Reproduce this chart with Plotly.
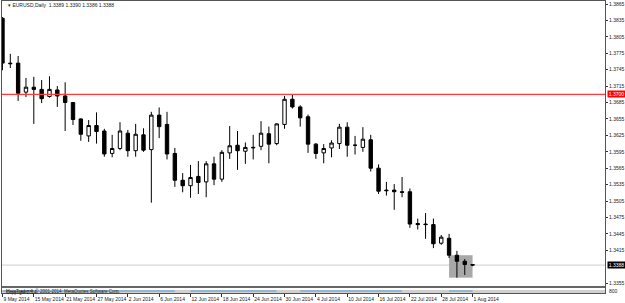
import plotly.graph_objects as go

# Daily EURUSD bars, oldest first
dates = ["9 May 2014", "", "", "", "15 May 2014", "", "", "", "21 May 2014", "", "", "", "27 May 2014", "", "", "",
         "2 Jun 2014", "", "", "", "6 Jun 2014", "", "", "", "12 Jun 2014", "", "", "", "18 Jun 2014", "", "", "",
         "24 Jun 2014", "", "", "", "30 Jun 2014", "", "", "", "4 Jul 2014", "", "", "", "10 Jul 2014", "", "", "",
         "16 Jul 2014", "", "", "", "22 Jul 2014", "", "", "", "28 Jul 2014", "", "", "", "1 Aug 2014"]
opens = [1.3839, 1.3757, 1.3757, 1.3704, 1.3713, 1.3709, 1.3696, 1.3708, 1.3697, 1.3685, 1.3655, 1.3624, 1.3643,
         1.3633, 1.3592, 1.3601, 1.3629, 1.3597, 1.3626, 1.3599, 1.3662, 1.3645, 1.3592, 1.3543, 1.3533, 1.3550,
         1.3540, 1.3573, 1.3545, 1.3593, 1.3607, 1.3596, 1.3602, 1.3605, 1.3628, 1.3610, 1.3645, 1.3691, 1.3677,
         1.3659, 1.3609, 1.3593, 1.3602, 1.3610, 1.3640, 1.3607, 1.3603, 1.3617, 1.3565, 1.3525, 1.3525, 1.3522,
         1.3522, 1.3464, 1.3463, 1.3462, 1.3428, 1.3437, 1.3406, 1.3395, 1.3389]
highs = [1.3841, 1.3774, 1.3770, 1.3730, 1.3732, 1.3726, 1.3733, 1.3715, 1.3722, 1.3686, 1.3656, 1.3653, 1.3667,
         1.3637, 1.3626, 1.3649, 1.3635, 1.3646, 1.3638, 1.3668, 1.3676, 1.3668, 1.3602, 1.3556, 1.3571, 1.3578,
         1.3578, 1.3586, 1.3598, 1.3642, 1.3633, 1.3612, 1.3626, 1.3651, 1.3641, 1.3647, 1.3697, 1.3700, 1.3680,
         1.3663, 1.3611, 1.3609, 1.3616, 1.3646, 1.3649, 1.3624, 1.3640, 1.3626, 1.3572, 1.3540, 1.3536, 1.3549,
         1.3528, 1.3473, 1.3483, 1.3473, 1.3443, 1.3445, 1.3414, 1.3399, 1.3390]
lows = [1.3744, 1.3748, 1.3688, 1.3695, 1.3646, 1.3684, 1.3694, 1.3677, 1.3633, 1.3644, 1.3615, 1.3613, 1.3610,
        1.3586, 1.3585, 1.3598, 1.3586, 1.3586, 1.3595, 1.3502, 1.3620, 1.3581, 1.3531, 1.3521, 1.3511, 1.3518,
        1.3512, 1.3534, 1.3540, 1.3582, 1.3562, 1.3573, 1.3581, 1.3598, 1.3574, 1.3607, 1.3637, 1.3674, 1.3641,
        1.3593, 1.3582, 1.3574, 1.3585, 1.3600, 1.3586, 1.3590, 1.3595, 1.3559, 1.3518, 1.3515, 1.3489, 1.3512,
        1.3456, 1.3453, 1.3436, 1.3419, 1.3425, 1.3401, 1.3365, 1.3370, 1.3386]
closes = [1.3757, 1.3756, 1.3702, 1.3713, 1.3709, 1.3692, 1.3709, 1.3697, 1.3685, 1.3654, 1.3627, 1.3643, 1.3632,
          1.3591, 1.3601, 1.3633, 1.3597, 1.3627, 1.3598, 1.3662, 1.3641, 1.3591, 1.3543, 1.3533, 1.3548, 1.3539,
          1.3573, 1.3545, 1.3594, 1.3606, 1.3597, 1.3603, 1.3603, 1.3629, 1.3609, 1.3646, 1.3691, 1.3677, 1.3657,
          1.3609, 1.3592, 1.3601, 1.3611, 1.3640, 1.3607, 1.3607, 1.3618, 1.3565, 1.3523, 1.3524, 1.3522, 1.3521,
          1.3463, 1.3462, 1.3462, 1.3427, 1.3439, 1.3406, 1.3395, 1.3389, 1.3388]

price_ticks = [1.3865, 1.3835, 1.3805, 1.3775, 1.3745, 1.3715, 1.3685, 1.3655, 1.3625, 1.3595, 1.3565, 1.3535,
               1.3505, 1.3475, 1.3445, 1.3415, 1.3355]
resistance = 1.3700
last_price = 1.3388
box_low, box_high = 1.3365, 1.3406
box_first, box_last = 57, 60

LABEL_FONT = dict(family="Liberation Sans", size=5, color="#222222")
SMALL_FONT = dict(family="Liberation Sans", size=4.5, color="#222222")
TAG_FONT = dict(family="Liberation Sans", size=5, color="#ffffff")

HEIGHT_PLOT = 292  # plot frame height; strip helpers below measure from the frame's top


def frame_y(from_top):
    return 1 - from_top / HEIGHT_PLOT


bar_index = list(range(len(dates)))
tick_index = [i for i in bar_index if dates[i]]
tick_text = [dates[i] for i in tick_index]

fig = go.Figure(go.Candlestick(
    x=bar_index, open=opens, high=highs, low=lows, close=closes,
    increasing=dict(line=dict(color="#000000", width=1), fillcolor="#ffffff"),
    decreasing=dict(line=dict(color="#000000", width=1), fillcolor="#000000"),
    whiskerwidth=0, hoverinfo="skip",
))

shapes = [
    # highlighted range behind the latest bars
    dict(type="rect", layer="below", xref="x", yref="y", x0=box_first, x1=box_last, y0=box_low, y1=box_high,
         fillcolor="#a8a8a8", line_width=0),
    # current price and resistance level
    dict(type="line", layer="below", xref="paper", yref="y", x0=0, x1=1, y0=last_price, y1=last_price,
         line=dict(color="#cccccc", width=1)),
    dict(type="line", layer="above", xref="paper", yref="y", x0=0, x1=1, y0=resistance, y1=resistance,
         line=dict(color="#ff3b3b", width=1.2)),
    # separator and status strip along the bottom of the frame
    dict(type="rect", layer="above", xref="paper", yref="paper", x0=0, x1=1, y0=frame_y(287), y1=frame_y(285),
         fillcolor="#666666", line_width=0),
    dict(type="rect", layer="above", xref="paper", yref="paper", x0=0, x1=1, y0=frame_y(292), y1=frame_y(289),
         fillcolor="#d0d0d0", line_width=0),
]

# blue progress segments in the status strip, in bar units
for start, end in [(0.0, 17.0), (17.0, 22.0), (24.0, 35.0), (38.0, 51.0), (57.0, 60.0)]:
    shapes.append(dict(type="line", layer="above", xref="x", yref="paper", x0=start, x1=end,
                       y0=frame_y(290), y1=frame_y(290), line=dict(color="#5b9bd5", width=1)))

annotations = [
    dict(text="▾ EURUSD,Daily  1.3389 1.3390 1.3386 1.3388", xref="paper", yref="paper", x=0.006, y=0.985,
         xanchor="left", yanchor="middle", showarrow=False, font=LABEL_FONT),
    dict(text="MetaTrader 4, © 2001-2014, MetaQuotes Software Corp.", xref="paper", yref="paper", x=0.004,
         y=frame_y(290), xanchor="left", yanchor="middle", showarrow=False, font=SMALL_FONT),
    dict(text="Copyright 2014", xref="paper", yref="paper", x=0.004, y=frame_y(291), xanchor="left",
         yanchor="middle", showarrow=False, font=SMALL_FONT),
    dict(text="800", xref="paper", yref="paper", x=1.004, y=frame_y(290), xanchor="left", yanchor="middle",
         showarrow=False, font=LABEL_FONT),
    dict(text="1.3700", xref="paper", yref="y", x=1.003, y=resistance, xanchor="left", yanchor="middle",
         showarrow=False, bgcolor="#ff0000", borderpad=0, width=17, height=6, font=TAG_FONT),
    dict(text="1.3388", xref="paper", yref="y", x=1.003, y=last_price, xanchor="left", yanchor="middle",
         showarrow=False, bgcolor="#000000", borderpad=0, width=17, height=6, font=TAG_FONT),
]

fig.update_layout(
    width=625, height=303, margin=dict(l=2, r=20, t=1, b=10, autoexpand=False),
    paper_bgcolor="#ffffff", plot_bgcolor="#ffffff", showlegend=False,
    boxgap=0.38,
    shapes=shapes, annotations=annotations,
    xaxis=dict(range=[-0.06, 76.9], rangeslider=dict(visible=False), tickmode="array", tickvals=tick_index,
               ticktext=tick_text, tickangle=0, ticklabelposition="outside right", ticklabelstandoff=1,
               ticks="outside", ticklen=3, tickcolor="#333333", tickfont=LABEL_FONT, showgrid=False,
               zeroline=False, showline=True, linecolor="#555555", linewidth=1, mirror=True),
    yaxis=dict(range=[1.33370, 1.38705], side="right", tickmode="array", tickvals=price_ticks,
               ticktext=[f"{p:.4f}" for p in price_ticks], ticks="outside", ticklen=2, tickcolor="#333333",
               tickfont=LABEL_FONT, showgrid=False, zeroline=False, showline=True, linecolor="#555555",
               linewidth=1, mirror=True),
)

fig.write_html("out.html")
